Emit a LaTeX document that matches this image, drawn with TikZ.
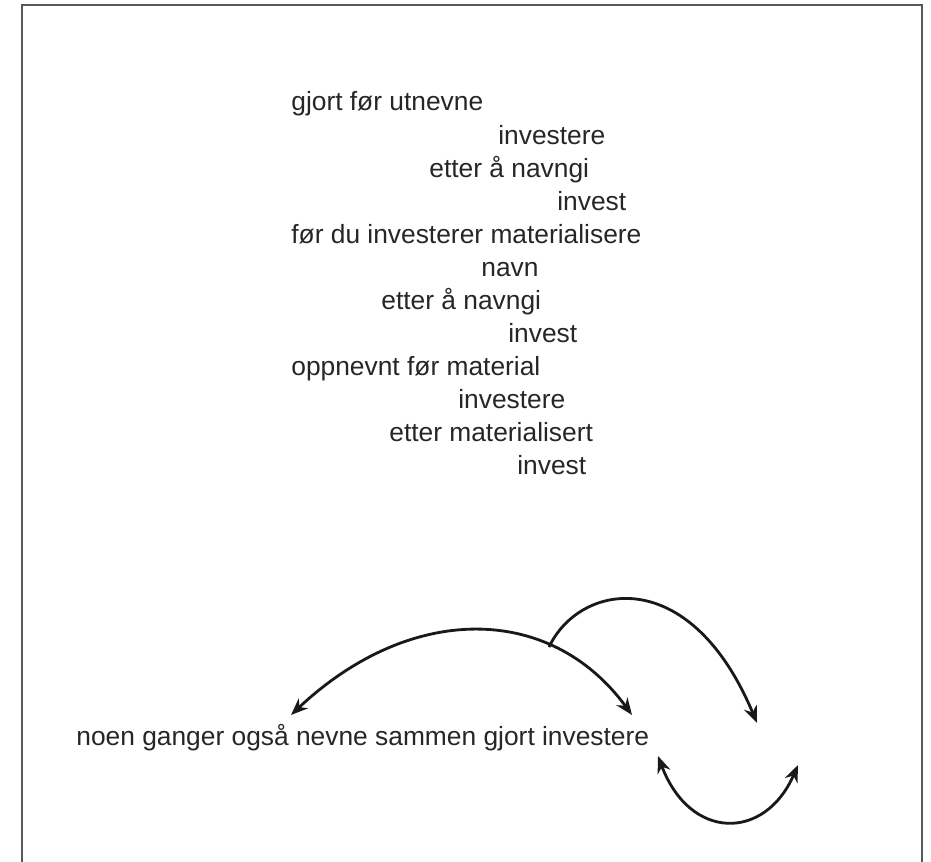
\documentclass[tikz,border=0pt]{standalone}
\usepackage{fontspec}
\setmainfont{Liberation Sans}
\usetikzlibrary{arrows.meta,positioning}

\begin{document}
\begin{tikzpicture}[
    x=0.02cm, y=-0.02cm,
    >={Stealth[length=3.4mm, width=2.7mm]},
    phrase/.style={anchor=base west, inner sep=0pt, font=\fontsize{15}{18}\selectfont, text=black!85},
    arc/.style={line width=1.6pt, color=black!90},
    frame/.style={line width=1.2pt, color=black!65}
]

% Canvas and outer frame (bottom edge runs off the page)
\useasboundingbox (0,0) rectangle (931,862);
\draw[frame] (22,875) -- (22,5) -- (922,5) -- (922,875);

% Stacked phrases, one per line
\node[phrase] (l1)  at (291,111) {gjort før utnevne};
\node[phrase] (l2)  at (498,144) {investere};
\node[phrase] (l3)  at (429,177) {etter å navngi};
\node[phrase] (l4)  at (557,210) {invest};
\node[phrase] (l5)  at (291,243) {før du investerer materialisere};
\node[phrase] (l6)  at (481,276) {navn};
\node[phrase] (l7)  at (381,309) {etter å navngi};
\node[phrase] (l8)  at (508,342) {invest};
\node[phrase] (l9)  at (291,375) {oppnevnt før material};
\node[phrase] (l10) at (458,408) {investere};
\node[phrase] (l11) at (389,441) {etter materialisert};
\node[phrase] (l12) at (517,474) {invest};

% Bottom sentence
\node[phrase] (sentence) at (76,745) {noen ganger også nevne sammen gjort investere};

% Free ends of the curved arrows
\coordinate (aleft)  at (291,715);
\coordinate (aright) at (632,715);
\coordinate (bstart) at (549,647);
\coordinate (bend)   at (757,723);
\coordinate (cleft)  at (658,756);
\coordinate (cright) at (798,765);

% Big arc over the sentence
\draw[arc, <->] (aleft) .. controls (410,603) and (550,603) .. (aright);
% Branch off the big arc
\draw[arc, ->] (bstart) .. controls (580,582) and (690,563) .. (bend);
% Small arc below
\draw[arc, <->] (cleft) .. controls (690,841) and (765,841) .. (cright);

\end{tikzpicture}
\end{document}
